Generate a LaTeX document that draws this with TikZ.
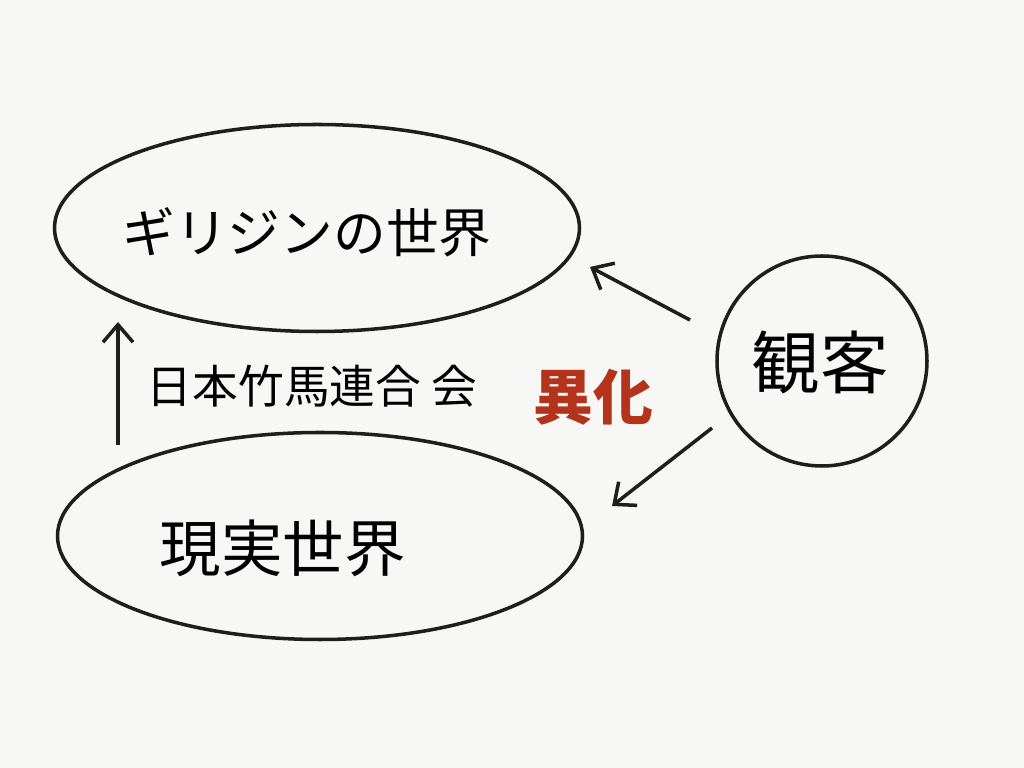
\documentclass[tikz,border=0pt]{standalone}
\usepackage{fontspec}
\setmainfont{Noto Sans CJK JP}
\usetikzlibrary{shapes.geometric,arrows.meta}
\definecolor{paper}{HTML}{F7F7F5}
\definecolor{ink}{HTML}{1E1E1E}
\definecolor{redink}{HTML}{B3331B}

\begin{document}
\begin{tikzpicture}[x=0.2mm, y=-0.2mm, line width=2pt, draw=ink,
	world/.style={draw, ellipse, inner sep=0pt, minimum width=105mm, minimum height=41.4mm},
	pen/.style={-{Straight Barb[length=3.5mm, width=6mm]}}]
	\fill[paper] (0,0) rectangle (1024,768);
	\useasboundingbox (0,0) rectangle (1024,768);
	\node (gir) [world] at (317, 228) {};
	\node (real) [world] at (320, 536) {};
	\node (aud) [draw, circle, inner sep=0pt, minimum size=42mm] at (822, 361) {};
	\node (girtext) at (307, 232) {\fontsize{30}{30}\selectfont ギリジンの世界};
	\node (realtext) at (283, 548) {\fontsize{35}{35}\selectfont 現実世界};
	\node (audtext) at (820, 362) {\fontsize{39}{39}\selectfont 観客};
	\node (assoc) at (312, 386) {\fontsize{26}{26}\selectfont 日本竹馬連合\ 会};
	\node (ika) at (593, 397) [text=redink] {\fontsize{34}{34}\selectfont\bfseries 異化};
	\coordinate (upfrom) at (118, 445);
	\coordinate (upto) at (118, 322);
	\coordinate (a1) at (690, 320);
	\coordinate (a1to) at (590, 267);
	\coordinate (a2) at (712, 428);
	\coordinate (a2to) at (612, 506);
	\draw[pen] (upfrom) -- (upto);
	\draw[pen] (a1) -- (a1to);
	\draw[pen] (a2) -- (a2to);
\end{tikzpicture}
\end{document}
